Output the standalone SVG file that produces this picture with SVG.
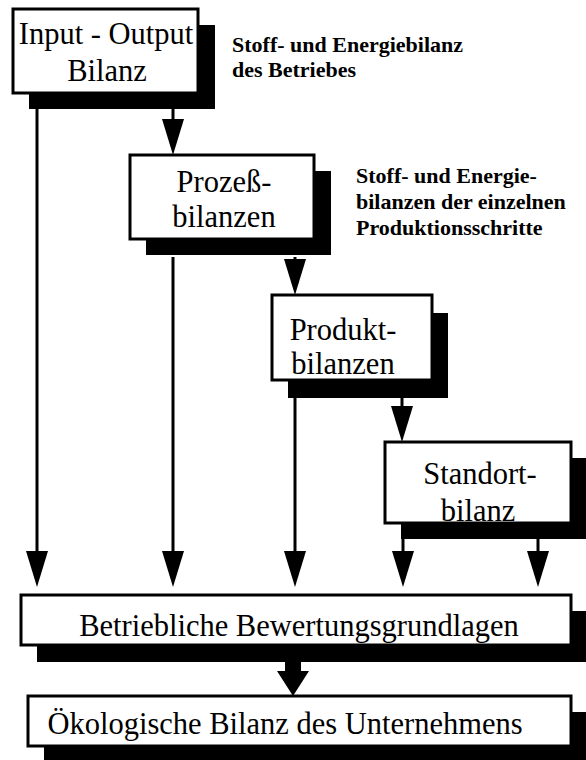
<svg xmlns="http://www.w3.org/2000/svg" width="586" height="760" viewBox="0 0 586 760">
<defs>
<style>
.box{fill:#fff;stroke:#000;stroke-width:3}
.sh{fill:#000}
.t{font-family:"Liberation Serif","Times New Roman",serif;font-size:30.5px;fill:#000;text-anchor:middle}
.s{font-family:"Liberation Serif","Times New Roman",serif;font-size:22px;font-weight:bold;fill:#000}
.ln{stroke:#000;stroke-width:3;fill:none}
</style>
<marker id="ah" markerUnits="userSpaceOnUse" markerWidth="36" markerHeight="22" viewBox="0 0 36 22" refX="6" refY="11" orient="auto">
<path d="M0,0 L36,11 L0,22 Z" fill="#000"/>
</marker>
</defs>
<rect width="586" height="760" fill="#fff"/>
<g id="connectors">
<line class="ln" x1="37" y1="93" x2="37" y2="557" marker-end="url(#ah)"/>
<line class="ln" x1="173" y1="109" x2="173" y2="125" marker-end="url(#ah)"/>
<line class="ln" x1="173" y1="257" x2="173" y2="557" marker-end="url(#ah)"/>
<line class="ln" x1="295" y1="257" x2="295" y2="265" marker-end="url(#ah)"/>
<line class="ln" x1="295" y1="398" x2="295" y2="557" marker-end="url(#ah)"/>
<line class="ln" x1="402" y1="398" x2="402" y2="412" marker-end="url(#ah)"/>
<line class="ln" x1="403" y1="539" x2="403" y2="557" marker-end="url(#ah)"/>
<line class="ln" x1="538" y1="539" x2="538" y2="557" marker-end="url(#ah)"/>
<polygon points="285,648 301,648 301,671 309,671 293,696 277,671 285,671" fill="#000"/>
</g>
<g id="input-output">
<rect class="sh" x="29" y="25" width="186" height="84"/>
<rect class="box" x="13" y="9" width="185" height="84"/>
<text class="t" x="106" y="44">Input - Output</text>
<text class="t" x="107" y="81">Bilanz</text>
</g>
<g id="note1">
<text class="s" x="232" y="52">Stoff- und Energiebilanz</text>
<text class="s" x="232" y="77">des Betriebes</text>
</g>
<g id="prozess">
<rect class="sh" x="146" y="171" width="185" height="84"/>
<rect class="box" x="130" y="155" width="184" height="84"/>
<text class="t" x="224" y="192">Prozeß-</text>
<text class="t" x="224" y="227">bilanzen</text>
</g>
<g id="note2">
<text class="s" x="356" y="183">Stoff- und Energie-</text>
<text class="s" x="356" y="209">bilanzen der einzelnen</text>
<text class="s" x="356" y="235">Produktionsschritte</text>
</g>
<g id="produkt">
<rect class="sh" x="288" y="313" width="160" height="85"/>
<rect class="box" x="272" y="295" width="160" height="85"/>
<text class="t" x="343" y="340">Produkt-</text>
<text class="t" x="343" y="374">bilanzen</text>
</g>
<g id="standort">
<rect class="sh" x="401" y="458" width="186" height="81"/>
<rect class="box" x="385" y="442" width="186" height="81"/>
<text class="t" x="480" y="484">Standort-</text>
<text class="t" x="478" y="521">bilanz</text>
</g>
<g id="bewertung">
<rect class="sh" x="37" y="611" width="552" height="51"/>
<rect class="box" x="21" y="595" width="550" height="50"/>
<text class="t" x="299" y="636">Betriebliche Bewertungsgrundlagen</text>
</g>
<g id="oekologisch">
<rect class="sh" x="44" y="712" width="545" height="51"/>
<rect class="box" x="28" y="696" width="543" height="50"/>
<text class="t" x="285" y="734">Ökologische Bilanz des Unternehmens</text>
</g>
</svg>
